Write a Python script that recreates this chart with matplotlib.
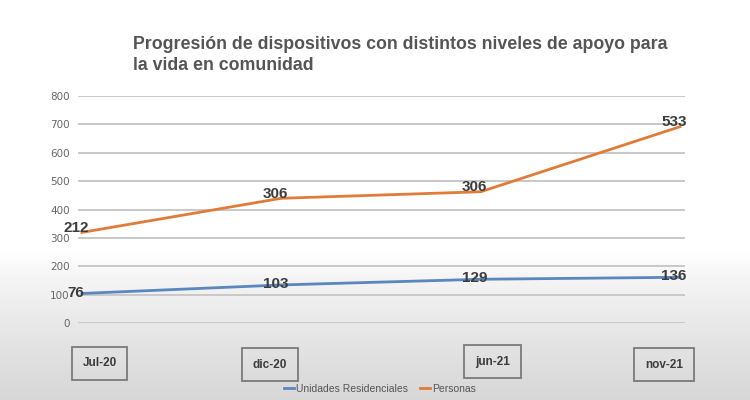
import numpy as np
import matplotlib
matplotlib.use("Agg")
import matplotlib.pyplot as plt
from matplotlib.colors import LinearSegmentedColormap

# Data
categories = ["Jul-20", "dic-20", "jun-21", "nov-21"]
unidades = [105, 135, 155, 162]
personas = [320, 440, 463, 692]
unidades_labels = ["76", "103", "129", "136"]
personas_labels = ["212", "306", "306", "533"]
yticks = [0, 100, 200, 300, 400, 500, 600, 700, 800]

BLUE = "#5a87bd"
ORANGE = "#e07b39"
TEXT = "#3c3c3c"

fig = plt.figure(figsize=(7.5, 4), dpi=100)

# background: white top fading to light grey at the bottom
bg = fig.add_axes([0, 0, 1, 1], zorder=-10)
grad = np.ones((400, 1))
ramp = np.linspace(0, 1, 150)
grad[250:, 0] = 1 - 0.16 * ramp ** 0.8
cmap = LinearSegmentedColormap.from_list("g", ["#000000", "#ffffff"])
bg.imshow(grad, aspect="auto", cmap=cmap, vmin=0, vmax=1,
          extent=[0, 1, 0, 1], origin="upper")
bg.axis("off")

ax = fig.add_axes([78 / 750, 76.7 / 400, 607 / 750, 227.3 / 400])
ax.patch.set_alpha(0)
x = np.arange(len(categories))

ax.plot(x, unidades, color=BLUE, lw=2, label="Unidades Residenciales", zorder=3)
ax.plot(x, personas, color=ORANGE, lw=2, label="Personas", zorder=3)

ax.set_xlim(-0.02, 3.025)
ax.set_ylim(0, 800)
ax.set_yticks(yticks)
ax.set_xticks([])
ax.grid(axis="y", color="#c8c8c8", lw=1.4)
ax.set_axisbelow(True)
for s in ax.spines.values():
    s.set_visible(False)
ax.tick_params(axis="y", length=0, pad=6, labelsize=7.5, labelcolor="#666666")

lab_font = ["Liberation Sans", "DejaVu Sans"]
for i in range(len(categories)):
    ax.text(x[i] - 0.03, personas[i] + 15, personas_labels[i], ha="center", va="center",
            fontsize=11, fontweight="bold", color=TEXT, family=lab_font, zorder=4)
    ax.text(x[i] - 0.03, unidades[i] + 3, unidades_labels[i], ha="center", va="center",
            fontsize=11, fontweight="bold", color=TEXT, family=lab_font, zorder=4)

# category boxes below the plot
box_x = [99.5, 270, 492.5, 664]
box_y = [363.5, 364.5, 361.5, 364.5]
for cx, cy, c in zip(box_x, box_y, categories):
    fig.text(cx / 750, 1 - cy / 400, c, ha="center", va="center", fontsize=8.5,
             fontweight="bold", color=TEXT, family=lab_font,
             bbox=dict(boxstyle="square,pad=0.9", fc="none", ec="#7a7a7a", lw=1.3))

fig.text(133 / 750, 1 - 55 / 400,
         "Progresión de dispositivos con distintos niveles de apoyo para\nla vida en comunidad",
         ha="left", va="center", fontsize=12.8, fontweight="bold", color="#555555",
         family=lab_font, linespacing=1.3)

leg = fig.legend(loc="center", bbox_to_anchor=(380 / 750, 1 - 389 / 400), ncol=2,
                 frameon=False, handlelength=0.9, handletextpad=0.2,
                 columnspacing=1.2, prop={"family": lab_font, "size": 7.5})
for t in leg.get_texts():
    t.set_color("#555555")

fig.savefig("out.png", dpi=100)
